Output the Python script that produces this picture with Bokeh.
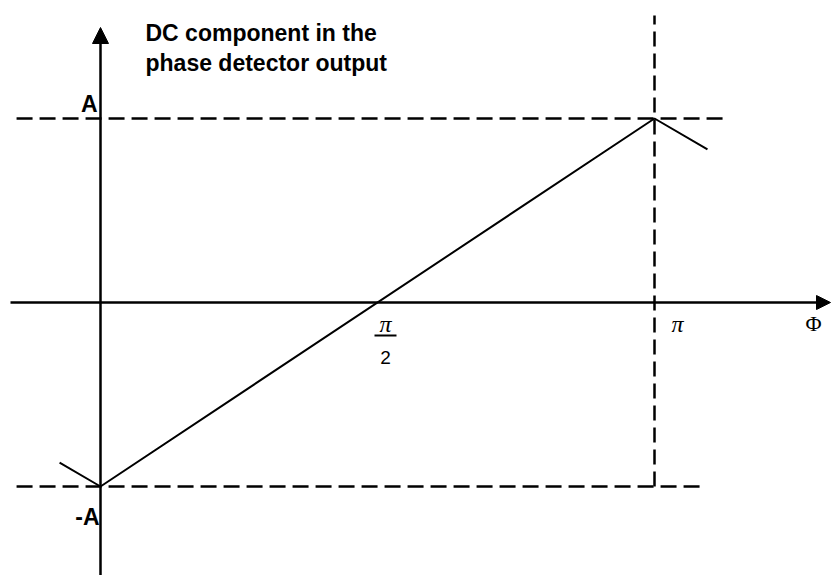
import math
from bokeh.plotting import figure
from bokeh.models import Arrow, NormalHead
from bokeh.core.properties import value
from bokeh.embed import file_html
from bokeh.resources import INLINE

PI = math.pi

# ---- data ----
A = 1.0
# phase detector DC output: triangle wave, one rising half-period plus short stubs
phi = [-0.232, 0.0, PI, 3.442]
dc = [-0.870, -A, A, 0.832]

y_ticks = [A, -A]
y_tick_labels = ["A", "-A"]
x_ticks = [PI / 2, PI]
x_tick_labels = ["π/2", "π"]
y_title_lines = ["DC component in the", "phase detector output"]
x_title = "Φ"

# guide extents (dashed reference lines)
guide_x_left = -0.476
guide_top_right = 3.539
guide_bottom_right = 3.414
guide_v_top = 1.56

# ---- layout: pixel scale ----
W, H = 831, 575
SX = 554 / PI      # px per radian
SY = 184.0         # px per unit of A
X0, Y0 = 100, 302  # pixel location of the origin

x_start = -X0 / SX
x_end = (W - X0) / SX
y_end = Y0 / SY
y_start = -(H - Y0) / SY

p = figure(width=W, height=H, x_range=(x_start, x_end), y_range=(y_start, y_end),
           output_backend="svg", toolbar_location=None, min_border=0,
           x_axis_type=None, y_axis_type=None)
p.grid.visible = False
p.outline_line_color = None
p.background_fill_color = "white"

# dashed guides
p.line([guide_x_left, guide_top_right], [A, A], line_color="black", line_width=2.5, line_dash="16 7")
p.line([guide_x_left, guide_bottom_right], [-A, -A], line_color="black", line_width=2.5, line_dash="16 7")
p.line([PI, PI], [-A, guide_v_top], line_color="black", line_width=2.5, line_dash="15 7")

# axes with arrows
p.add_layout(Arrow(x_start=0, y_start=y_start - 0.1, x_end=0, y_end=(Y0 - 27) / SY,
                   line_width=2.5, line_color="black",
                   end=NormalHead(size=16, fill_color="black", line_color="black")))
p.add_layout(Arrow(x_start=(10 - X0) / SX, y_start=0, x_end=(830 - X0) / SX, y_end=0,
                   line_width=2.5, line_color="black",
                   end=NormalHead(size=14, fill_color="black", line_color="black")))

# the characteristic
p.line(phi, dc, line_color="black", line_width=2)

sans = value("Liberation Sans")
serif = value("Liberation Serif")

# y axis title
p.text(x=[(145 - X0) / SX] * 2, y=[(Y0 - 32) / SY, (Y0 - 62) / SY], text=y_title_lines,
       text_font=sans, text_font_style="bold", text_font_size="23px", text_color="black",
       text_align="left", text_baseline="alphabetic")

# y tick labels
p.text(x=[0, 0], y=y_ticks, text=y_tick_labels, x_offset=[-3, -1], y_offset=[-15, 30],
       text_font=sans, text_font_style="bold", text_font_size="23px", text_color="black",
       text_align="right", text_baseline="alphabetic")

# x tick labels
for xv, lab in zip(x_ticks, x_tick_labels):
    if "/" in lab:
        num, den = lab.split("/")
        p.text(x=[xv], y=[0], text=[num], x_offset=8, y_offset=21,
               text_font=serif, text_font_style="italic", text_font_size="24px",
               text_color="black", text_align="center", text_baseline="alphabetic")
        p.text(x=[xv], y=[0], text=[den], x_offset=8, y_offset=55,
               text_font=sans, text_font_size="19px",
               text_color="black", text_align="center", text_baseline="alphabetic")
        bx = xv + 8 / SX
        p.segment(x0=[bx - 11 / SX], x1=[bx + 11 / SX], y0=[-33 / SY], y1=[-33 / SY],
                  line_color="black", line_width=2)
    else:
        p.text(x=[xv], y=[0], text=[lab], x_offset=23, y_offset=21,
               text_font=serif, text_font_style="italic", text_font_size="24px",
               text_color="black", text_align="center", text_baseline="alphabetic")

# x axis title
p.text(x=[(813 - X0) / SX], y=[0], text=[x_title], y_offset=21,
       text_font=serif, text_font_size="22px", text_color="black",
       text_align="center", text_baseline="alphabetic")

open("out.html", "w").write(file_html(p, INLINE))
